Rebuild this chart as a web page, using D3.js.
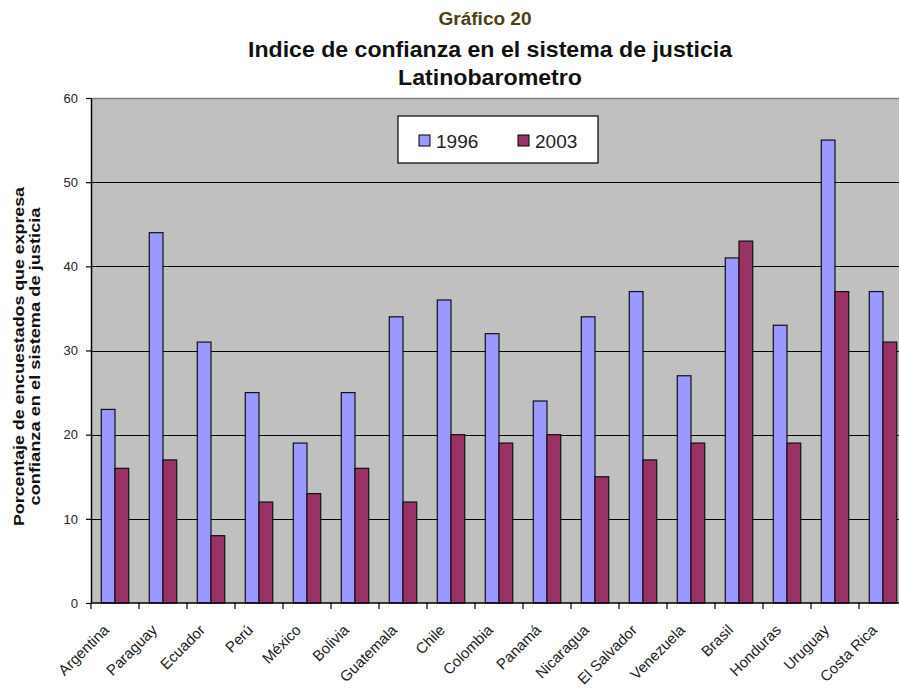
<!DOCTYPE html>
<html>
<head>
<meta charset="utf-8">
<script src="https://cdn.jsdelivr.net/npm/d3@7"></script>
<style>
  html, body { margin: 0; padding: 0; background: #ffffff; overflow: hidden; }
  svg { display: block; font-family: "Liberation Sans", Arial, sans-serif; }
</style>
</head>
<body>
<svg id="chart" width="899" height="698"></svg>
<script>
// Countries along the x axis
const categories = ["Argentina", "Paraguay", "Ecuador", "Perú", "México", "Bolivia",
  "Guatemala", "Chile", "Colombia", "Panamá", "Nicaragua", "El Salvador",
  "Venezuela", "Brasil", "Honduras", "Uruguay", "Costa Rica"];

// Share of respondents expressing confidence in the justice system (%)
const values1996 = [23, 44, 31, 25, 19, 25, 34, 36, 32, 24, 34, 37, 27, 41, 33, 55, 37];
const values2003 = [16, 17, 8, 12, 13, 16, 12, 20, 19, 20, 15, 17, 19, 43, 19, 37, 31];

const seriesNames = ["1996", "2003"];
const yTicks = [0, 10, 20, 30, 40, 50, 60];

const seriesValues = { "1996": values1996, "2003": values2003 };
const colors = { "1996": "#9999ff", "2003": "#993366" };

const svg = d3.select("#chart");

const plot = { left: 91, right: 907, top: 98, bottom: 603 };

const x = d3.scaleBand().domain(categories).range([plot.left, plot.right]).padding(0);
// two bars per group, gap between groups 150% of a bar width
const x1 = d3.scaleBand().domain(seriesNames).range([0, x.bandwidth()])
  .paddingInner(0).paddingOuter(0.75);
const y = d3.scaleLinear().domain([0, 60]).range([plot.bottom, plot.top]);

// plot background
svg.append("rect")
  .attr("x", plot.left).attr("y", plot.top)
  .attr("width", plot.right - plot.left).attr("height", plot.bottom - plot.top)
  .attr("fill", "#c0c0c0");

// top border of plot area
svg.append("line")
  .attr("x1", plot.left).attr("x2", plot.right)
  .attr("y1", plot.top + 0.5).attr("y2", plot.top + 0.5)
  .attr("stroke", "#808080").attr("stroke-width", 1.5);

// horizontal gridlines
svg.append("g").selectAll("line")
  .data(yTicks.filter(t => t > 0 && t < 60))
  .join("line")
  .attr("x1", plot.left).attr("x2", plot.right)
  .attr("y1", d => Math.round(y(d)) + 0.5).attr("y2", d => Math.round(y(d)) + 0.5)
  .attr("stroke", "#000").attr("stroke-width", 1);

// bars
const groups = svg.append("g").selectAll("g")
  .data(categories)
  .join("g")
  .attr("transform", d => `translate(${x(d)},0)`);

groups.selectAll("rect")
  .data((c, i) => seriesNames.map(s => ({ s, v: seriesValues[s][i] })))
  .join("rect")
  .attr("x", d => x1(d.s))
  .attr("y", d => y(d.v))
  .attr("width", x1.bandwidth())
  .attr("height", d => y(0) - y(d.v))
  .attr("fill", d => colors[d.s])
  .attr("stroke", "#111")
  .attr("stroke-width", 1.2);

// y axis
const yAxis = svg.append("g")
  .attr("transform", `translate(${plot.left},0)`)
  .call(d3.axisLeft(y).tickValues(yTicks).tickSize(5).tickPadding(8).tickSizeOuter(0));
yAxis.select(".domain").attr("stroke", "#000").attr("stroke-width", 1.5);
yAxis.selectAll(".tick line").attr("stroke", "#000").attr("stroke-width", 1.2);
yAxis.selectAll("text").attr("font-size", 13).attr("fill", "#222")
  .attr("font-family", "Liberation Sans, Arial, sans-serif");

// x axis line and category boundary ticks
svg.append("line")
  .attr("x1", plot.left).attr("x2", plot.right)
  .attr("y1", plot.bottom).attr("y2", plot.bottom)
  .attr("stroke", "#000").attr("stroke-width", 1.5);
svg.append("g").selectAll("line")
  .data(categories.map(c => x(c)).concat([plot.right]))
  .join("line")
  .attr("x1", d => d).attr("x2", d => d)
  .attr("y1", plot.bottom).attr("y2", plot.bottom + 6)
  .attr("stroke", "#000").attr("stroke-width", 1.2);

// rotated category labels
svg.append("g").selectAll("text")
  .data(categories)
  .join("text")
  .attr("transform", d => `translate(${x(d) + x.bandwidth() / 2 - 5},${plot.bottom + 28}) rotate(-45)`)
  .attr("text-anchor", "end")
  .attr("font-size", 15)
  .attr("fill", "#222")
  .text(d => d);

// y axis title (two lines)
const yTitle = svg.append("text")
  .attr("transform", `translate(24,${(plot.top + plot.bottom) / 2 + 6}) rotate(-90)`)
  .attr("text-anchor", "middle")
  .attr("font-size", 14)
  .attr("font-weight", "bold")
  .attr("fill", "#111");
yTitle.append("tspan").attr("x", 0).attr("dy", 0)
  .attr("textLength", 339).attr("lengthAdjust", "spacingAndGlyphs")
  .text("Porcentaje de encuestados que expresa");
yTitle.append("tspan").attr("x", 0).attr("dy", 16)
  .attr("textLength", 298).attr("lengthAdjust", "spacingAndGlyphs")
  .text("confianza en el sistema de justicia");

// titles
svg.append("text")
  .attr("x", 485).attr("y", 25)
  .attr("text-anchor", "middle")
  .attr("font-size", 18).attr("font-weight", "bold")
  .attr("fill", "#4d3f17")
  .attr("textLength", 93).attr("lengthAdjust", "spacingAndGlyphs")
  .text("Gráfico 20");
svg.append("text")
  .attr("x", 490).attr("y", 57)
  .attr("text-anchor", "middle")
  .attr("font-size", 22).attr("font-weight", "bold")
  .attr("fill", "#111")
  .attr("textLength", 484).attr("lengthAdjust", "spacingAndGlyphs")
  .text("Indice de confianza en el sistema de justicia");
svg.append("text")
  .attr("x", 490).attr("y", 85)
  .attr("text-anchor", "middle")
  .attr("font-size", 22).attr("font-weight", "bold")
  .attr("fill", "#111")
  .attr("textLength", 184).attr("lengthAdjust", "spacingAndGlyphs")
  .text("Latinobarometro");

// legend
const legend = svg.append("g").attr("transform", "translate(398,116)");
legend.append("rect")
  .attr("width", 200).attr("height", 47)
  .attr("fill", "#fff").attr("stroke", "#000").attr("stroke-width", 1.2);
const items = legend.selectAll("g.item")
  .data(seriesNames)
  .join("g")
  .attr("class", "item")
  .attr("transform", (d, i) => `translate(${21 + i * 99},19)`);
items.append("rect")
  .attr("width", 11).attr("height", 11)
  .attr("fill", d => colors[d]).attr("stroke", "#000").attr("stroke-width", 1);
items.append("text")
  .attr("x", 17).attr("y", 13)
  .attr("font-size", 19)
  .attr("fill", "#222")
  .text(d => d);
</script>
</body>
</html>
